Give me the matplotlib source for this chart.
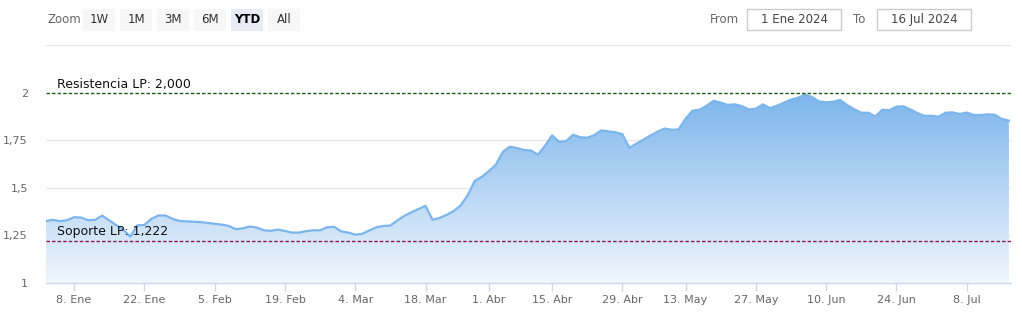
import matplotlib
matplotlib.use("Agg")
import matplotlib.pyplot as plt
import numpy as np
import pandas as pd
from matplotlib.patches import Rectangle

# trading sessions shown (ordinal axis, holidays skipped)
holidays = ["2024-03-29", "2024-04-01", "2024-05-01"]
dates = pd.bdate_range("2024-01-02", "2024-07-16", freq="C", holidays=holidays)

values = [
    1.325, 1.331, 1.324, 1.329, 1.345, 1.343, 1.329, 1.331, 1.353, 1.328,
    1.303, 1.278, 1.243, 1.302, 1.304, 1.336, 1.354, 1.354, 1.336, 1.325,
    1.323, 1.321, 1.319, 1.315, 1.310, 1.306, 1.299, 1.282, 1.286, 1.296,
    1.290, 1.276, 1.273, 1.280, 1.272, 1.264, 1.264, 1.271, 1.276, 1.276,
    1.292, 1.294, 1.270, 1.264, 1.253, 1.257, 1.275, 1.292, 1.299, 1.301,
    1.328, 1.352, 1.371, 1.388, 1.405, 1.331, 1.341, 1.357, 1.377, 1.407,
    1.460, 1.536, 1.557, 1.587, 1.621, 1.689, 1.716, 1.709, 1.699, 1.696,
    1.674, 1.721, 1.776, 1.742, 1.745, 1.779, 1.766, 1.763, 1.777, 1.802,
    1.797, 1.792, 1.782, 1.710, 1.732, 1.753, 1.775, 1.795, 1.812, 1.805,
    1.807, 1.863, 1.906, 1.911, 1.932, 1.958, 1.948, 1.936, 1.939, 1.930,
    1.912, 1.916, 1.939, 1.919, 1.932, 1.948, 1.964, 1.974, 1.990, 1.977,
    1.954, 1.950, 1.953, 1.962, 1.935, 1.913, 1.895, 1.895, 1.876, 1.911,
    1.908, 1.927, 1.929, 1.912, 1.893, 1.878, 1.879, 1.874, 1.895, 1.897,
    1.888, 1.896, 1.883, 1.883, 1.887, 1.884, 1.862, 1.853,
]

tick_dates = ["2024-01-08", "2024-01-22", "2024-02-05", "2024-02-19", "2024-03-04",
              "2024-03-18", "2024-04-01", "2024-04-15", "2024-04-29", "2024-05-13",
              "2024-05-27", "2024-06-10", "2024-06-24", "2024-07-08"]
tick_labels = ["8. Ene", "22. Ene", "5. Feb", "19. Feb", "4. Mar", "18. Mar", "1. Abr",
               "15. Abr", "29. Abr", "13. May", "27. May", "10. Jun", "24. Jun", "8. Jul"]

y_ticks = [1, 1.25, 1.5, 1.75, 2]
y_labels = ["1", "1,25", "1,5", "1,75", "2"]

resistance = 2.0
support = 1.222

zoom_buttons = ["1W", "1M", "3M", "6M", "YTD", "All"]
range_from = "1 Ene 2024"
range_to = "16 Jul 2024"

W, H = 1022, 317
fig = plt.figure(figsize=(W / 100, H / 100), dpi=100)
ax_w = 1011 - 46
ax = fig.add_axes([46 / W, 1 - 282.7 / H, ax_w / W, (282.7 - 45.3) / H])

x = np.arange(len(values))
n = len(values)

# area fill with vertical gradient
poly = ax.fill_between(x, values, 1, color="none", lw=0)
top = np.array([124, 181, 236]) / 255
bot = np.array([240, 246, 253]) / 255
t = np.linspace(0, 1, 256)[:, None]
grad = (top * (1 - t) + bot * t)[:, None, :]
im = ax.imshow(grad, extent=[0, n - 1, 1, 2.0], aspect="auto", origin="upper", zorder=1)
im.set_clip_path(poly.get_paths()[0], transform=ax.transData)
ax.plot(x, values, color="#7cb5ec", lw=1.6, zorder=3, solid_joinstyle="round")

# grid
for g in [1.25, 1.5, 1.75, 2.25]:
    ax.axhline(g, color="#e6e6e6", lw=1, zorder=0.5)

# support / resistance
ax.axhline(resistance, color="#1e5a1e", lw=1, ls=(0, (2.5, 1.5)), zorder=4)
ax.axhline(support, color="#8b1a4a", lw=1, ls=(0, (2.5, 1.5)), zorder=4)
trans = ax.get_yaxis_transform()
ax.text(11 / ax_w, resistance + 0.012, "Resistencia LP: 2,000", fontsize=9, color="#111111",
        va="bottom", ha="left", zorder=5, transform=trans)
ax.text(11 / ax_w, support + 0.012, "Soporte LP: 1,222", fontsize=9, color="#111111",
        va="bottom", ha="left", zorder=5, transform=trans)

ax.set_xlim(0, n - 0.7)
ax.set_ylim(1, 2.25)

tick_pos = dates.searchsorted(pd.to_datetime(tick_dates))
ax.set_xticks(tick_pos)
ax.set_xticklabels(tick_labels, fontsize=8, color="#666666")
ax.set_yticks(y_ticks)
ax.set_yticklabels(y_labels, fontsize=8, color="#666666")
ax.tick_params(axis="x", length=6, width=1, color="#ccd6eb", pad=3)
ax.tick_params(axis="y", length=0, pad=13)

for s in ["top", "right", "left"]:
    ax.spines[s].set_visible(False)
ax.spines["bottom"].set_color("#ccd6eb")
ax.spines["bottom"].set_linewidth(1)


# toolbar (figure pixel coords)
def box(x0, y0, x1, y1, fc, ec="none"):
    fig.patches.append(Rectangle((x0 / W, 1 - y1 / H), (x1 - x0) / W, (y1 - y0) / H,
                                 transform=fig.transFigure, fc=fc, ec=ec, lw=1))


def label(px, py, s, **kw):
    fig.text(px / W, 1 - py / H, s, va="center", **kw)


label(47, 19.5, "Zoom", ha="left", fontsize=8.5, color="#666666")
bx = 83
for b in zoom_buttons:
    active = b == "YTD"
    box(bx, 9, bx + 32, 31, "#e6ebf5" if active else "#f7f7f7")
    label(bx + 16, 19.5, b, ha="center", fontsize=8.5,
          color="#000000" if active else "#333333",
          fontweight="bold" if active else "normal")
    bx += 37

label(710, 19.5, "From", ha="left", fontsize=8.5, color="#666666")
box(747, 9, 841, 30, "white", "#cccccc")
label(794, 19.5, range_from, ha="center", fontsize=8.5, color="#444444")
label(853, 19.5, "To", ha="left", fontsize=8.5, color="#666666")
box(877, 9, 971, 30, "white", "#cccccc")
label(924, 19.5, range_to, ha="center", fontsize=8.5, color="#444444")

fig.savefig("out.png", dpi=100)
